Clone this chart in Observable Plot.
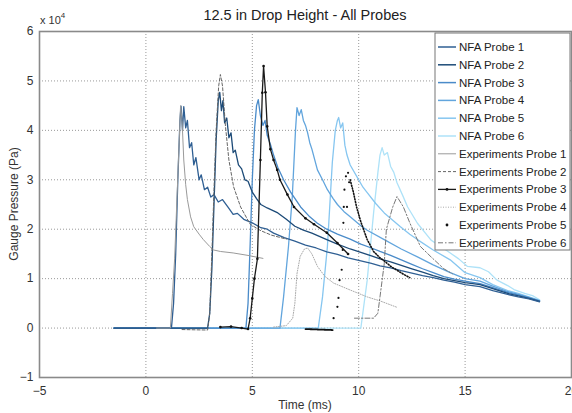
<!DOCTYPE html>
<html><head><meta charset="utf-8">
<script src="https://cdn.jsdelivr.net/npm/d3@7"></script>
<script src="https://cdn.jsdelivr.net/npm/@observablehq/plot@0.6"></script>
<style>body{margin:0;background:#fff} #chart{width:572px;height:413px}</style>
</head><body><div id="chart"></div>
<script>
const titleText = "12.5 in Drop Height - All Probes";
const xLabel = "Time (ms)";
const yLabel = "Gauge Pressure (Pa)";
const xTicks = [-5, 0, 5, 10, 15, 20];
const yTicks = [-1, 0, 1, 2, 3, 4, 5, 6];
const seriesNames = ["NFA Probe 1","NFA Probe 2","NFA Probe 3","NFA Probe 4","NFA Probe 5","NFA Probe 6",
  "Experiments Probe 1","Experiments Probe 2","Experiments Probe 3","Experiments Probe 4","Experiments Probe 5","Experiments Probe 6"];

// pressure values in units of 10^4 Pa, time in ms
const nfa1 = [[-1.5,0],[1.2,0],[1.3,0.5],[1.4,1.5],[1.5,3.0],[1.6,4.2],[1.65,4.49],[1.72,4.0],[1.78,4.48],[1.87,4.05],[1.95,4.2],[2.05,3.65],[2.15,3.75],[2.25,3.3],[2.35,3.45],[2.5,3.0],[2.6,3.1],[2.75,2.8],[2.9,2.85],[3.05,2.65],[3.2,2.7],[3.4,2.55],[3.6,2.6],[3.85,2.45],[4.1,2.3],[4.3,2.32],[4.6,2.2],[5.0,2.13],[5.4,2.03],[5.7,2.0],[6.0,1.92],[6.5,1.83],[7.0,1.76],[7.5,1.68],[8.0,1.62],[8.5,1.54],[9.0,1.49],[9.5,1.42],[10.1,1.36],[10.6,1.31],[11,1.26],[11.5,1.22],[12,1.16],[12.5,1.11],[13,1.06],[13.5,1.02],[14,0.97],[14.5,0.93],[15,0.88],[15.7,0.84],[16.3,0.76],[17,0.68],[17.5,0.63],[18,0.59],[18.5,0.53]];
const nfa2 = [[-1.5,0],[2.9,0],[3.0,0.3],[3.1,1.2],[3.2,2.5],[3.3,3.8],[3.4,4.6],[3.47,4.77],[3.55,4.4],[3.62,4.6],[3.7,4.15],[3.8,4.25],[3.9,3.85],[4.0,3.95],[4.1,3.55],[4.2,3.6],[4.35,3.3],[4.5,3.22],[4.65,3.0],[4.8,2.97],[5.0,2.75],[5.2,2.62],[5.4,2.5],[5.7,2.43],[6.0,2.37],[6.2,2.33],[6.6,2.2],[7.0,2.06],[7.4,1.98],[7.8,1.92],[8.5,1.79],[9.0,1.7],[9.6,1.6],[10.1,1.53],[10.6,1.46],[11,1.4],[11.5,1.34],[12,1.27],[12.5,1.2],[13,1.13],[13.5,1.06],[14,1.0],[14.5,0.96],[15,0.92],[15.7,0.88],[16.3,0.8],[17,0.7],[17.5,0.65],[18,0.6],[18.5,0.54]];
const nfa3 = [[-1.5,0],[4.7,0],[4.8,0.5],[4.9,1.7],[5.0,3.0],[5.1,4.0],[5.2,4.5],[5.28,4.62],[5.38,4.3],[5.5,4.1],[5.6,4.2],[5.7,3.9],[5.85,3.72],[6.0,3.5],[6.2,3.25],[6.47,3.0],[6.8,2.75],[7.27,2.45],[7.7,2.25],[8.06,2.12],[8.5,2.0],[9.0,1.9],[9.6,1.8],[10.1,1.7],[10.6,1.62],[11,1.55],[11.5,1.47],[12,1.38],[12.5,1.29],[13,1.2],[13.5,1.12],[14,1.04],[14.5,0.99],[15,0.95],[15.7,0.9],[16.3,0.82],[17,0.72],[17.5,0.67],[18,0.61],[18.5,0.55]];
const nfa4 = [[-1.5,0],[6.3,0],[6.47,0.63],[6.7,1.65],[6.88,2.66],[7.03,4.0],[7.1,4.46],[7.2,4.3],[7.3,4.42],[7.4,4.2],[7.5,4.1],[7.6,3.95],[7.7,3.75],[7.8,3.62],[8.06,3.2],[8.3,3.0],[8.53,2.8],[8.8,2.62],[9.0,2.5],[9.3,2.36],[9.6,2.25],[10.1,2.07],[10.4,1.98],[11.2,1.79],[12,1.6],[12.76,1.44],[13.5,1.28],[14.3,1.12],[15,1.0],[15.7,0.95],[16.3,0.85],[17,0.74],[17.5,0.68],[18,0.62],[18.5,0.55]];
const nfa5 = [[-1.5,0],[8.1,0],[8.3,0.63],[8.53,1.65],[8.76,3.35],[8.9,4.0],[9.0,4.2],[9.06,4.26],[9.15,4.05],[9.25,4.15],[9.35,3.7],[9.45,3.5],[9.6,3.3],[9.92,3.06],[10.2,2.85],[10.4,2.74],[10.8,2.52],[11.2,2.33],[11.6,2.18],[11.96,2.05],[12.4,1.9],[12.76,1.79],[13.5,1.58],[14.3,1.38],[15,1.12],[15.7,1.02],[16.3,0.88],[17,0.76],[17.5,0.7],[18,0.63],[18.5,0.56]];
const nfa6 = [[-1.5,0],[10.1,0],[10.4,0.97],[10.7,2.33],[10.9,3.14],[11.0,3.5],[11.1,3.65],[11.2,3.5],[11.35,3.55],[11.5,3.27],[11.65,3.15],[11.8,2.94],[12.05,2.7],[12.3,2.45],[12.76,2.12],[13.4,1.78],[14.2,1.55],[14.7,1.4],[15.1,1.25],[15.7,1.22],[16.1,1.14],[16.5,0.97],[17.0,0.86],[17.3,0.78],[17.8,0.7],[18.2,0.65],[18.5,0.57]];

const exp1 = [[0.5,0],[1.15,0],[1.25,0.7],[1.35,1.4],[1.53,3.4],[1.63,4.5],[1.7,4.2],[1.78,3.4],[1.87,2.9],[1.95,2.6],[2.1,2.25],[2.25,2.05],[2.5,1.9],[2.7,1.79],[3.0,1.65],[3.18,1.58],[3.5,1.55],[4.1,1.52],[4.8,1.47],[5.5,1.41]];
const exp2 = [[1.7,-0.03],[2.9,-0.04],[3.0,0.3],[3.1,1.5],[3.2,2.8],[3.3,4.0],[3.42,4.9],[3.5,5.13],[3.6,4.9],[3.74,4.08],[3.9,3.4],[4.12,2.86],[4.45,2.45],[4.9,2.1],[5.4,1.97],[5.9,1.88],[6.6,1.8]];
const exp3 = [[3.5,0.02],[4.0,0.03],[4.5,0.0],[4.8,-0.02],[4.9,0.2],[5.0,0.6],[5.1,1.0],[5.24,1.4],[5.38,3.4],[5.47,4.76],[5.53,5.3],[5.62,4.77],[5.7,4.08],[5.85,3.62],[6.0,3.4],[6.17,3.2],[6.3,3.0],[6.65,2.7],[6.96,2.45],[7.5,2.22],[7.9,2.1],[8.5,1.93],[9.0,1.72],[9.5,1.5]];
const exp4 = [[6.0,0.02],[6.6,0.05],[6.9,0.2],[7.0,0.5],[7.1,1.1],[7.25,1.45],[7.45,1.6],[7.6,1.62],[7.8,1.5],[8.06,1.25],[8.4,1.05],[8.82,0.91],[9.6,0.77],[10.4,0.63],[11.0,0.55],[11.8,0.42]];
const exp5Flat = [[7.5,-0.02],[8.8,-0.04]];
const exp5Rise = [[8.82,0.2],[9.0,0.43],[9.05,0.61],[9.1,0.97],[9.2,1.18],[9.25,1.58],[9.28,2.13],[9.3,2.45],[9.33,2.8],[9.4,3.07],[9.5,3.14],[9.55,2.95],[9.45,2.45]];
const exp5Decay = [[9.6,3.0],[9.75,2.75],[9.9,2.45],[10.1,2.15],[10.4,1.79],[10.7,1.55],[11.0,1.42],[11.2,1.36],[11.5,1.25],[11.8,1.17],[12.1,1.09],[12.4,1.02]];
const exp6 = [[9.8,0.2],[10.7,0.2],[10.9,0.3],[11.0,0.63],[11.2,1.3],[11.3,2.0],[11.6,2.45],[11.8,2.66],[12.1,2.45],[12.4,2.13],[12.9,1.65],[13.4,1.44],[14.0,1.2],[14.4,1.1]];

const nfaColors = ["#2f5f93","#1d4b78","#4a8bc9","#62a5dd","#86c6f0","#aee2f8"];
const expStyles = [
  {stroke:"#9a9a9a", dash:null, w:1},
  {stroke:"#666", dash:"3,2", w:1},
  {stroke:"#1a1a1a", dash:null, w:1.3},
  {stroke:"#aaa", dash:"1,1.5", w:1},
  {stroke:"#111", dash:null, w:0},
  {stroke:"#777", dash:"5,2,1.5,2", w:1}
];

const toRows = (arr, name) => arr.map(([t, p]) => ({t, p, name}));
const nfaSets = [nfa1, nfa2, nfa3, nfa4, nfa5, nfa6];

const marks = [
  Plot.gridX(xTicks, {stroke:"#999", strokeOpacity:1, strokeDasharray:"1,2"}),
  Plot.gridY(yTicks, {stroke:"#999", strokeOpacity:1, strokeDasharray:"1,2"}),
  Plot.axisX(xTicks, {tickSize:0, tickPadding:9, label:null, fontSize:12, fill:"#333"}),
  Plot.axisY(yTicks, {tickSize:0, tickPadding:6, label:null, fontSize:12, fill:"#333"})
];
for (let i = 5; i >= 0; i--) {
  marks.push(Plot.line(toRows(nfaSets[i], seriesNames[i]), {x:"t", y:"p", stroke:nfaColors[i], strokeWidth:1.3}));
}
marks.push(Plot.line(toRows(exp1, seriesNames[6]), {x:"t", y:"p", stroke:expStyles[0].stroke, strokeWidth:1}));
marks.push(Plot.line(toRows(exp2, seriesNames[7]), {x:"t", y:"p", stroke:expStyles[1].stroke, strokeWidth:1, strokeDasharray:"3,2"}));
marks.push(Plot.line(toRows(exp4, seriesNames[9]), {x:"t", y:"p", stroke:expStyles[3].stroke, strokeWidth:1, strokeDasharray:"1,1.5"}));
marks.push(Plot.line(toRows(exp6, seriesNames[11]), {x:"t", y:"p", stroke:expStyles[5].stroke, strokeWidth:1, strokeDasharray:"5,2,1.5,2"}));
marks.push(Plot.line(toRows(exp3, seriesNames[8]), {x:"t", y:"p", stroke:expStyles[2].stroke, strokeWidth:1.3}));
marks.push(Plot.dot(toRows(exp3, seriesNames[8]), {x:"t", y:"p", fill:"#111", r:1.3}));
marks.push(Plot.line(toRows(exp5Flat, seriesNames[10]), {x:"t", y:"p", stroke:"#111", strokeWidth:1.8, strokeDasharray:"1.2,0.8"}));
marks.push(Plot.line(toRows(exp5Decay, seriesNames[10]), {x:"t", y:"p", stroke:"#111", strokeWidth:1.6, strokeDasharray:"1,1.8"}));
marks.push(Plot.dot(toRows(exp5Rise, seriesNames[10]), {x:"t", y:"p", fill:"#111", r:1.1}));
marks.push(Plot.frame({stroke:"#8a8a8a", strokeWidth:1.6}));

const chart = Plot.plot({
  width: 572, height: 413,
  marginLeft: 39, marginRight: 1, marginTop: 31, marginBottom: 36,
  style: {fontFamily: "'Liberation Sans', Arial, sans-serif", fontSize: "12px", background: "#fff"},
  x: {domain: [-5, 20]},
  y: {domain: [-1, 6]},
  marks
});
document.getElementById("chart").appendChild(chart);

const svg = d3.select(chart);
const ff = "'Liberation Sans', Arial, sans-serif";
svg.append("text").attr("x", 305).attr("y", 20).attr("text-anchor", "middle")
  .attr("font-family", ff).attr("font-size", 14.5).attr("fill", "#222").text(titleText);
svg.append("text").attr("x", 305).attr("y", 409).attr("text-anchor", "middle")
  .attr("font-family", ff).attr("font-size", 12).attr("fill", "#333").text(xLabel);
svg.append("text").attr("transform", "translate(18,204) rotate(-90)").attr("text-anchor", "middle")
  .attr("font-family", ff).attr("font-size", 12).attr("fill", "#333").text(yLabel);
const ex = svg.append("text").attr("x", 40).attr("y", 24).attr("text-anchor", "start").attr("font-family", ff)
  .attr("font-size", 11).attr("fill", "#333");
ex.append("tspan").text("x 10");
ex.append("tspan").attr("dy", -6).attr("font-size", 8).text("4");

// legend
const lg = svg.append("g");
lg.append("rect").attr("x", 435).attr("y", 33).attr("width", 135).attr("height", 217)
  .attr("fill", "#fff").attr("stroke", "#777").attr("stroke-width", 1);
seriesNames.forEach((name, i) => {
  const y = 47 + 17.8 * i;
  if (i < 6) {
    lg.append("line").attr("x1", 438).attr("x2", 456).attr("y1", y).attr("y2", y)
      .attr("stroke", nfaColors[i]).attr("stroke-width", 1.5);
  } else {
    const s = expStyles[i - 6];
    if (i !== 10) {
      const l = lg.append("line").attr("x1", 438).attr("x2", 456).attr("y1", y).attr("y2", y)
        .attr("stroke", s.stroke).attr("stroke-width", s.w);
      if (s.dash) l.attr("stroke-dasharray", s.dash);
    }
    if (i === 8 || i === 10) {
      lg.append("circle").attr("cx", 447).attr("cy", y).attr("r", 1.4).attr("fill", "#111");
    }
  }
  lg.append("text").attr("x", 459).attr("y", y + 4).attr("text-anchor", "start").attr("font-family", ff)
    .attr("font-size", 11.5).attr("fill", "#222").text(name);
});
</script>
</body></html>
